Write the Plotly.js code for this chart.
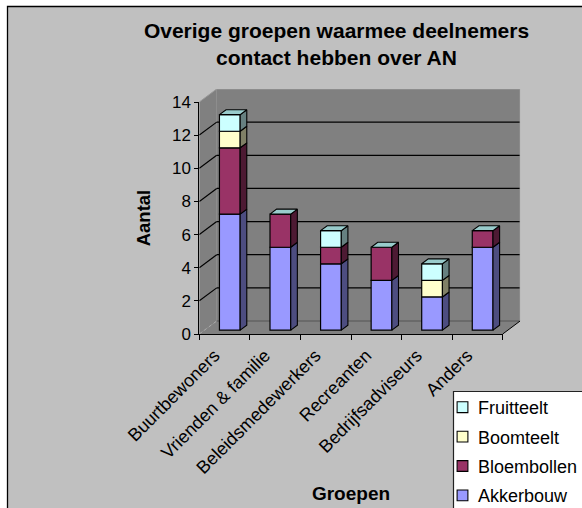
<!DOCTYPE html>
<html>
<head>
<meta charset="utf-8">
<script src="https://cdn.plot.ly/plotly-3.0.1.min.js"></script>
<style>html,body{margin:0;padding:0;background:#fff}#chart{width:582px;height:508px}</style>
</head>
<body>
<div id="chart"></div>
<script>
const categories = ['Buurtbewoners','Vrienden & familie','Beleidsmedewerkers','Recreanten','Bedrijfsadviseurs','Anders'];
const akkerbouw   = [7,5,4,3,2,5];
const bloembollen = [4,2,1,2,0,1];
const boomteelt   = [1,0,0,0,1,0];
const fruitteelt  = [1,0,1,0,1,0];
const seriesNames = ['Akkerbouw','Bloembollen','Boomteelt','Fruitteelt'];
const frontColors = ['#9999FF','#993366','#FFFFCC','#CCFFFF'];
const sideColors  = ['#4D4D80','#4D1A33','#808066','#668080'];
const topColor = '#99CCCC';
const yTicks = [0,2,4,6,8,10,12,14];

const W = 582, H = 508;
const front = {l:199.3, r:502.7, b:334, t:102};
const depthPx = {x:17.4, y:13};
const catPx = (front.r-front.l)/categories.length;
const valPx = (front.b-front.t)/14;
const DX = depthPx.x/catPx, DY = depthPx.y/valPx;
const xMax = 5.5+DX, yMax = 14+DY;
const barD0 = 0.3, barD1 = 0.68, barW = 0.41;

const P = (c,v,d)=>[c+d*DX, v+d*DY];
const polyPath = pts => 'M'+pts.map(p=>p[0]+','+p[1]).join('L')+'Z';
const seg = (a,b,color,width,dash)=>({type:'line',xref:'x',yref:'y',layer:'below',x0:a[0],y0:a[1],x1:b[0],y1:b[1],line:{color,width,dash:dash||'solid'}});
const poly = (pts,fill)=>({type:'path',xref:'x',yref:'y',layer:'below',path:polyPath(pts),fillcolor:fill,line:{width:0}});

const all = [akkerbouw,bloembollen,boomteelt,fruitteelt];
const bases = []; 
all.forEach((s,i)=>bases.push(s.map((_,k)=> i? bases[i-1][k]+all[i-1][k] : 0)));
const totals = categories.map((_,k)=>all.reduce((a,s)=>a+s[k],0));

const traces = [];
// front faces
all.forEach((s,i)=>{
  traces.push({type:'bar',name:seriesNames[i],legendgroup:seriesNames[i],legendrank:4-i,
    x:categories.map((_,k)=>P(k,0,barD0)[0]),
    y:s.map(v=>v||null),
    base:bases[i].map(b=>P(0,b,barD0)[1]),
    width:barW,
    marker:{color:frontColors[i],line:{color:'#000',width:1.2}},
    hoverinfo:'skip',xaxis:'x',yaxis:'y'});
});
// side faces
all.forEach((s,i)=>{
  const xs=[],ys=[];
  s.forEach((v,k)=>{
    if(!v) return;
    const c=k+barW/2, b=bases[i][k], t=b+v;
    [P(c,b,barD0),P(c,b,barD1),P(c,t,barD1),P(c,t,barD0),P(c,b,barD0)].forEach(p=>{xs.push(p[0]);ys.push(p[1]);});
    xs.push(null);ys.push(null);
  });
  traces.push({type:'scatter',mode:'lines',x:xs,y:ys,fill:'toself',fillcolor:sideColors[i],
    line:{color:'#000',width:1.1},showlegend:false,hoverinfo:'skip',xaxis:'x',yaxis:'y'});
});
// top faces
{
  const xs=[],ys=[];
  totals.forEach((t,k)=>{
    const a=k-barW/2,b=k+barW/2;
    [P(a,t,barD0),P(b,t,barD0),P(b,t,barD1),P(a,t,barD1),P(a,t,barD0)].forEach(p=>{xs.push(p[0]);ys.push(p[1]);});
    xs.push(null);ys.push(null);
  });
  traces.push({type:'scatter',mode:'lines',x:xs,y:ys,fill:'toself',fillcolor:topColor,
    line:{color:'#000',width:1.1},showlegend:false,hoverinfo:'skip',xaxis:'x',yaxis:'y'});
}
// carriers that keep the front-plane axes alive
['x2','x3'].forEach(a=>traces.push({type:'scatter',mode:'none',x:categories.map((_,k)=>k),y:totals,showlegend:false,hoverinfo:'skip',xaxis:a,yaxis:'y2'}));

// walls and floor
const L=-0.5,R=5.5;
const shapes = [
  {type:'rect',xref:'paper',yref:'paper',layer:'below',x0:7.5/W,x1:1.1,y0:-0.1,y1:1-6.5/H,fillcolor:'#C0C0C0',line:{color:'#000',width:1.3}},
  poly([P(L,0,0),P(L,14,0),P(L,14,1),P(L,0,1)],'#808080'),
  poly([P(L,0,1),P(L,14,1),P(R,14,1),P(R,0,1)],'#808080'),
  poly([P(L,0,0),P(R,0,0),P(R,0,1),P(L,0,1)],'#808080'),
  {type:'rect',xref:'paper',yref:'paper',layer:'below',x0:453.5/W,x1:1.1,y0:-0.1,y1:1-391.5/H,fillcolor:'#FFFFFF',line:{color:'#222',width:1.2}}
];
yTicks.forEach(v=>{
  if(v===14){
    shapes.push(seg(P(L,v,0),P(L,v,1),'#999',1));
    shapes.push(seg(P(L,v,1),P(R,v,1),'#999',1));
  } else if(v===0){
    shapes.push(seg(P(L,v,0),P(L,v,1),'#aaa',1,'dot'));
    shapes.push(seg(P(L,v,1),P(R,v,1),'#555',1));
  } else {
    shapes.push(seg(P(L,v,0),P(L,v,1),'#000',1.2));
    shapes.push(seg(P(L,v,1),P(R,v,1),'#000',1.2));
  }
});
shapes.push(seg(P(R,0,1),P(R,14,1),'#999',1));
shapes.push(seg(P(R,0,0),P(R,0,1),'#000',1));

const FONT='Liberation Sans, Arial, sans-serif';
const frontDomainX=[front.l/W,front.r/W];
const frontDomainY=[1-front.b/H,1-front.t/H];

const layout = {
  width:W,height:H,autosize:false,
  margin:{l:0,r:0,t:0,b:0,pad:0,autoexpand:false},
  paper_bgcolor:'#fff',plot_bgcolor:'rgba(0,0,0,0)',
  barmode:'overlay',
  font:{family:FONT,color:'#000',size:16},
  title:{text:'<b>Overige groepen waarmee deelnemers<br>contact hebben over AN</b>',x:336.5/W,xanchor:'center',xref:'paper',
    y:1-38/H,yanchor:'middle',yref:'paper',font:{family:FONT,size:21,color:'#000'}},
  xaxis:{visible:false,domain:[front.l/W,(front.r+depthPx.x)/W],range:[L,xMax],fixedrange:true,anchor:'y'},
  yaxis:{visible:false,domain:[1-front.b/H,1-(front.t-depthPx.y)/H],range:[0,yMax],fixedrange:true,anchor:'x'},
  xaxis2:{domain:frontDomainX,range:[L,R],anchor:'y2',tickmode:'array',tickvals:categories.map((_,k)=>k-0.2),ticktext:categories,
    tickangle:-45,ticks:'',ticklabelstandoff:3,showgrid:false,zeroline:false,showline:true,linecolor:'#000',linewidth:1,
    tickfont:{family:FONT,size:18,color:'#000'},
    title:{text:'<b>Groepen</b>',font:{family:FONT,size:19,color:'#000'},standoff:9},fixedrange:true},
  xaxis3:{domain:frontDomainX,range:[L,R],anchor:'y2',overlaying:'x2',tickmode:'array',tickvals:[-0.5,0.5,1.5,2.5,3.5,4.5,5.5],
    ticks:'outside',ticklen:5,tickwidth:1,tickcolor:'#000',showticklabels:false,showgrid:false,zeroline:false,fixedrange:true},
  yaxis2:{domain:frontDomainY,range:[0,14],anchor:'x2',tickmode:'array',tickvals:yTicks,ticks:'outside',ticklen:4,tickwidth:1,tickcolor:'#000',
    showgrid:false,zeroline:false,showline:true,linecolor:'#000',linewidth:1,
    tickfont:{family:FONT,size:17,color:'#000'},
    title:{text:'<b>Aantal</b>',font:{family:FONT,size:18.5,color:'#000'},standoff:16},fixedrange:true},
  showlegend:true,
  legend:{x:438/W,y:1-389/H,xanchor:'left',yanchor:'top',bgcolor:'rgba(0,0,0,0)',borderwidth:0,
    traceorder:'grouped',tracegroupgap:3,font:{family:FONT,size:18,color:'#000'},itemclick:false,itemdoubleclick:false},
  shapes
};
Plotly.newPlot('chart',traces,layout,{displayModeBar:false,staticPlot:true}).then(()=>{
  document.querySelectorAll('.legend .legendpoints').forEach(g=>g.setAttribute('transform','translate(6.5,0) scale(0.9)'));
});
</script>
</body>
</html>
